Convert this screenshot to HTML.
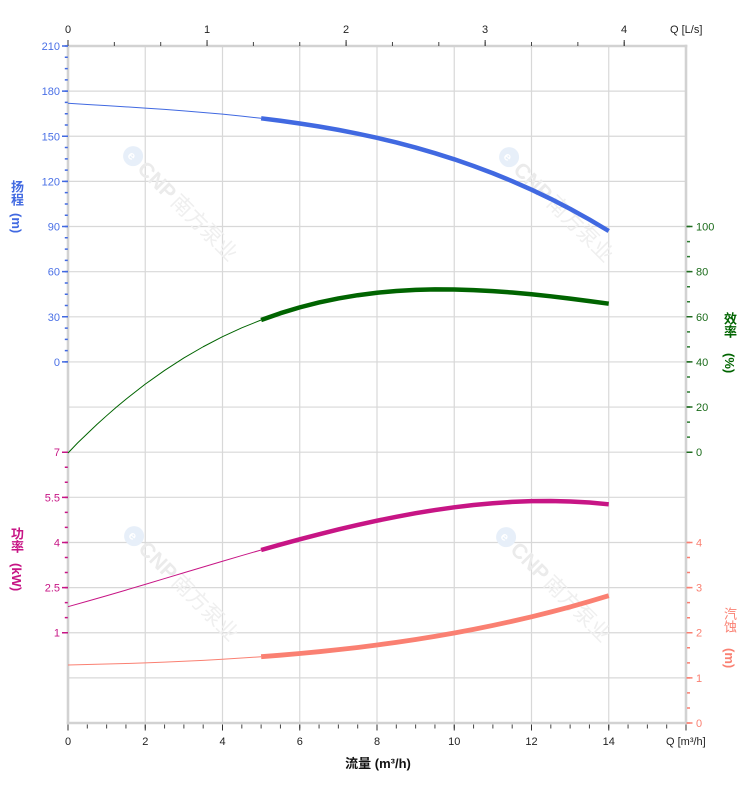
<!DOCTYPE html>
<html><head><meta charset="utf-8">
<style>
html,body{margin:0;padding:0;background:#fff;}
#wrap{position:relative;width:752px;height:797px;overflow:hidden;background:#fff;font-family:"Liberation Sans","Noto Sans CJK SC",sans-serif;}
svg{position:absolute;left:0;top:0;}
.vt{position:absolute;writing-mode:vertical-rl;font-size:13px;font-weight:bold;line-height:13px;white-space:nowrap;font-family:"Liberation Sans","Noto Sans CJK SC",sans-serif;}
</style></head>
<body><div id="wrap">
<svg width="752" height="797" viewBox="0 0 752 797" xmlns="http://www.w3.org/2000/svg" font-family="Liberation Sans, Noto Sans CJK SC, sans-serif">
<!-- grid -->
<g stroke="#d8d8d8" stroke-width="1.2" fill="none">
<line x1="145.25" y1="46" x2="145.25" y2="723"/>
<line x1="222.5" y1="46" x2="222.5" y2="723"/>
<line x1="299.75" y1="46" x2="299.75" y2="723"/>
<line x1="377" y1="46" x2="377" y2="723"/>
<line x1="454.25" y1="46" x2="454.25" y2="723"/>
<line x1="531.5" y1="46" x2="531.5" y2="723"/>
<line x1="608.75" y1="46" x2="608.75" y2="723"/>
<line x1="68" y1="91.13" x2="686" y2="91.13"/>
<line x1="68" y1="136.27" x2="686" y2="136.27"/>
<line x1="68" y1="181.4" x2="686" y2="181.4"/>
<line x1="68" y1="226.53" x2="686" y2="226.53"/>
<line x1="68" y1="271.67" x2="686" y2="271.67"/>
<line x1="68" y1="316.8" x2="686" y2="316.8"/>
<line x1="68" y1="361.93" x2="686" y2="361.93"/>
<line x1="68" y1="407.07" x2="686" y2="407.07"/>
<line x1="68" y1="452.2" x2="686" y2="452.2"/>
<line x1="68" y1="497.33" x2="686" y2="497.33"/>
<line x1="68" y1="542.47" x2="686" y2="542.47"/>
<line x1="68" y1="587.6" x2="686" y2="587.6"/>
<line x1="68" y1="632.73" x2="686" y2="632.73"/>
<line x1="68" y1="677.87" x2="686" y2="677.87"/>
</g>

<!-- watermarks -->
<g font-size="21" fill="#efefef">
<g transform="translate(184,207) rotate(45)">
<circle cx="-72" cy="0" r="10" fill="#e7eff9"/><text x="-76.5" y="4.5" font-size="12" font-weight="bold" fill="#fff">e</text>
<text x="-60" y="7.5" font-weight="bold" fill="#ebebeb">CNP</text><text x="-13" y="7.5">南方泵业</text>
</g>
<g transform="translate(560,208) rotate(45)">
<circle cx="-72" cy="0" r="10" fill="#e7eff9"/><text x="-76.5" y="4.5" font-size="12" font-weight="bold" fill="#fff">e</text>
<text x="-60" y="7.5" font-weight="bold" fill="#ebebeb">CNP</text><text x="-13" y="7.5">南方泵业</text>
</g>
<g transform="translate(185,587) rotate(45)">
<circle cx="-72" cy="0" r="10" fill="#e7eff9"/><text x="-76.5" y="4.5" font-size="12" font-weight="bold" fill="#fff">e</text>
<text x="-60" y="7.5" font-weight="bold" fill="#ebebeb">CNP</text><text x="-13" y="7.5">南方泵业</text>
</g>
<g transform="translate(557,588) rotate(45)">
<circle cx="-72" cy="0" r="10" fill="#e7eff9"/><text x="-76.5" y="4.5" font-size="12" font-weight="bold" fill="#fff">e</text>
<text x="-60" y="7.5" font-weight="bold" fill="#ebebeb">CNP</text><text x="-13" y="7.5">南方泵业</text>
</g>
</g>

<!-- frame -->
<g stroke="#d2d2d2" stroke-width="2.6" fill="none">
<line x1="68" y1="44.7" x2="68" y2="724.3"/>
<line x1="686" y1="44.7" x2="686" y2="724.3"/>
<line x1="66.7" y1="46" x2="687.3" y2="46"/>
<line x1="66.7" y1="723" x2="687.3" y2="723"/>
</g>

<!-- top ticks -->
<line x1="67.5" y1="44" x2="625" y2="44" stroke="#444" stroke-width="4" stroke-dasharray="1 45.35"/>
<line x1="67.5" y1="43" x2="625" y2="43" stroke="#333" stroke-width="6" stroke-dasharray="1 138.05"/>
<!-- bottom ticks -->
<line x1="67.5" y1="726.5" x2="687" y2="726.5" stroke="#444" stroke-width="4" stroke-dasharray="1 18.3125"/>
<line x1="67.5" y1="727.5" x2="687" y2="727.5" stroke="#333" stroke-width="6" stroke-dasharray="1 76.25"/>

<!-- left head ticks -->
<line x1="66.3" y1="45.25" x2="66.3" y2="363" stroke="#4169E1" stroke-width="3" stroke-dasharray="1.5 9.783"/>
<line x1="65" y1="45.25" x2="65" y2="363" stroke="#4169E1" stroke-width="6" stroke-dasharray="1.5 43.633"/>
<!-- left power ticks -->
<line x1="66.3" y1="451.45" x2="66.3" y2="634" stroke="#C71585" stroke-width="3" stroke-dasharray="1.5 13.544"/>
<line x1="65" y1="451.45" x2="65" y2="634" stroke="#C71585" stroke-width="6" stroke-dasharray="1.5 43.633"/>
<!-- right efficiency ticks -->
<line x1="688.5" y1="225.78" x2="688.5" y2="453.5" stroke="#2e7d32" stroke-width="3" stroke-dasharray="1.5 13.544"/>
<line x1="689.5" y1="225.78" x2="689.5" y2="453.5" stroke="#1f6b1f" stroke-width="6" stroke-dasharray="1.5 43.633"/>
<!-- right npsh ticks -->
<line x1="688.5" y1="541.72" x2="688.5" y2="724.5" stroke="#FA8072" stroke-width="3" stroke-dasharray="1.5 13.544"/>
<line x1="689.5" y1="541.72" x2="689.5" y2="724.5" stroke="#FA8072" stroke-width="6" stroke-dasharray="1.5 43.633"/>

<!-- top labels -->
<g font-size="11" fill="#222" text-anchor="middle">
<text x="68" y="33">0</text><text x="207" y="33">1</text><text x="346" y="33">2</text><text x="485" y="33">3</text><text x="624" y="33">4</text>
</g>
<text x="670" y="33" font-size="11" fill="#222">Q [L/s]</text>
<!-- bottom labels -->
<g font-size="11" fill="#222" text-anchor="middle">
<text x="68" y="745">0</text><text x="145.25" y="745">2</text><text x="222.5" y="745">4</text><text x="299.75" y="745">6</text><text x="377" y="745">8</text><text x="454.25" y="745">10</text><text x="531.5" y="745">12</text><text x="608.75" y="745">14</text>
</g>
<text x="666" y="745" font-size="11" fill="#222">Q [m³/h]</text>
<text x="378" y="768" font-size="13" font-weight="bold" fill="#111" text-anchor="middle">流量 (m³/h)</text>

<!-- left head labels -->
<g font-size="11" fill="#4a70e6" text-anchor="end">
<text x="60" y="50">210</text><text x="60" y="95.1">180</text><text x="60" y="140.3">150</text><text x="60" y="185.4">120</text><text x="60" y="230.5">90</text><text x="60" y="275.7">60</text><text x="60" y="320.8">30</text><text x="60" y="365.9">0</text>
</g>
<!-- left power labels -->
<g font-size="11" fill="#C71585" text-anchor="end">
<text x="60" y="456.2">7</text><text x="60" y="501.3">5.5</text><text x="60" y="546.5">4</text><text x="60" y="591.6">2.5</text><text x="60" y="636.7">1</text>
</g>
<!-- right efficiency labels -->
<g font-size="11" fill="#1a6b1a">
<text x="696" y="230.5">100</text><text x="696" y="275.7">80</text><text x="696" y="320.8">60</text><text x="696" y="365.9">40</text><text x="696" y="411.1">20</text><text x="696" y="456.2">0</text>
</g>
<!-- right npsh labels -->
<g font-size="11" fill="#FA8072">
<text x="696" y="546.5">4</text><text x="696" y="591.6">3</text><text x="696" y="636.7">2</text><text x="696" y="681.9">1</text><text x="696" y="727">0</text>
</g>

<!-- curves -->
<g fill="none" stroke-linejoin="round">
<polyline stroke="#4169E1" stroke-width="1" points="68,103.3 87.31,104.49 106.63,105.66 125.94,106.86 145.25,108.1 164.56,109.43 183.88,110.86 203.19,112.44 222.5,114.18 241.81,116.13 261.13,118.3"/>
<polyline stroke="#4169E1" stroke-width="4.5" points="261.13,118.3 280.44,120.74 299.75,123.46 319.06,126.5 338.38,129.9 357.69,133.67 377,137.86 396.31,142.48 415.63,147.58 434.94,153.18 454.25,159.3 473.56,165.99 492.88,173.26 512.19,181.16 531.5,189.71 550.81,198.93 570.13,208.87 589.44,219.55 608.75,231"/>

<polyline stroke="#006400" stroke-width="1" points="68,453 77.66,442.9 87.31,433.6 96.97,424.4 106.63,415.69 116.28,407.3 125.94,399.22 145.25,384.15 164.56,370.41 183.88,357.97 203.19,346.75 222.5,336.72 241.81,327.82 261.13,320"/>
<polyline stroke="#006400" stroke-width="4.5" points="261.13,320 280.44,313.2 299.75,307.38 319.06,302.47 338.38,298.43 357.69,295.21 377,292.75 396.31,291 415.63,289.92 434.94,289.43 454.25,289.5 473.56,290.07 492.88,291.09 512.19,292.5 531.5,294.27 550.81,296.32 570.13,298.61 589.44,301.09 608.75,303.7"/>

<polyline stroke="#C71585" stroke-width="1" points="68,606.7 87.31,601.29 106.63,595.75 125.94,590.09 145.25,584.35 164.56,578.56 183.88,572.75 203.19,566.97 222.5,561.22 241.81,555.56 261.13,550"/>
<polyline stroke="#C71585" stroke-width="4.5" points="261.13,550 280.44,544.58 299.75,539.34 319.06,534.29 338.38,529.48 357.69,524.94 377,520.69 396.31,516.77 415.63,513.21 434.94,510.05 454.25,507.3 473.56,505.01 492.88,503.2 512.19,501.91 531.5,501.17 550.81,501.01 570.13,501.45 589.44,502.54 608.75,504.31"/>

<polyline stroke="#FA8072" stroke-width="1" points="68,665 87.31,664.56 106.63,664.05 125.94,663.49 145.25,662.84 164.56,662.1 183.88,661.26 203.19,660.32 222.5,659.25 241.81,658.05 261.13,656.7"/>
<polyline stroke="#FA8072" stroke-width="4.8" points="261.13,656.7 280.44,655.2 299.75,653.54 319.06,651.7 338.38,649.67 357.69,647.45 377,645.02 396.31,642.37 415.63,639.49 434.94,636.37 454.25,633 473.56,629.37 492.88,625.46 512.19,621.27 531.5,616.79 550.81,612 570.13,606.89 589.44,601.46 608.75,595.7"/>
</g>
</svg>

<div class="vt" style="left:10px;top:180px;color:#4169E1;">扬程</div>
<div class="vt" style="left:10px;top:213px;color:#4169E1;">(m)</div>
<div class="vt" style="left:10px;top:527px;color:#C71585;">功率</div>
<div class="vt" style="left:10px;top:563px;color:#C71585;">(kW)</div>
<div class="vt" style="left:723px;top:312px;color:#006400;">效率</div>
<div class="vt" style="left:723px;top:353px;color:#006400;">(%)</div>
<div class="vt" style="left:723px;top:607px;color:#FA8072;font-weight:normal;">汽蚀</div>
<div class="vt" style="left:723px;top:648px;color:#FA8072;">(m)</div>
</div></body></html>
